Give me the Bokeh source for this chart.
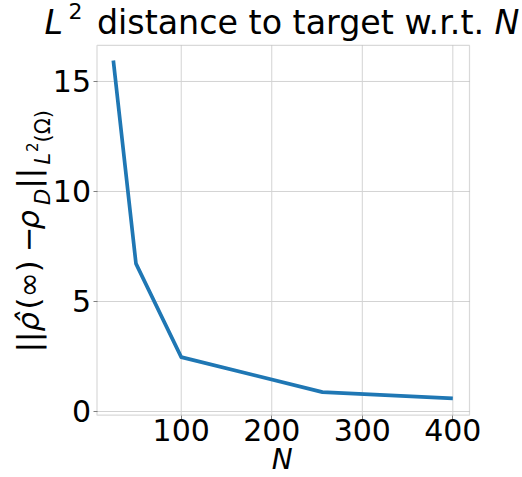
import math
from bokeh.plotting import figure
from bokeh.models import Label, Range1d, FixedTicker, BoxAnnotation
from bokeh.embed import file_html
from bokeh.resources import INLINE

# ---- data ----
n_values = [25, 50, 100, 256, 400]
l2_distance = [15.95, 6.72, 2.47, 0.88, 0.60]
x_ticks = [100, 200, 300, 400]
y_ticks = [0, 5, 10, 15]

# ---- layout constants (axes box in data units, view extents) ----
X_VIEW = (-99.64, 476.97)
Y_VIEW = (-3.0, 18.68)
BOX_X = (6.96, 418.43)
BOX_Y = (-0.168, 16.636)

FONT = "DejaVu Sans"
W, H = 522, 477
GRID = "#d3d3d3"
SPINE = "#808080"
K = 0.43  # baseline correction (fraction of font size)

p = figure(width=W, height=H, output_backend="svg", toolbar_location=None,
           title=None, x_range=Range1d(*X_VIEW), y_range=Range1d(*Y_VIEW),
           min_border=0)
p.background_fill_color = "white"
p.border_fill_color = "white"
p.outline_line_color = None
p.grid.visible = False

# grid lines inside the axes box
p.segment(x0=x_ticks, x1=x_ticks, y0=[BOX_Y[0]] * len(x_ticks),
          y1=[BOX_Y[1]] * len(x_ticks), line_color=GRID, line_width=1,
          level="underlay")
p.segment(x0=[BOX_X[0]] * len(y_ticks), x1=[BOX_X[1]] * len(y_ticks),
          y0=y_ticks, y1=y_ticks, line_color=GRID, line_width=1,
          level="underlay")

# data
p.line(n_values, l2_distance, line_color="#1f77b4", line_width=3.7,
       line_join="round", line_cap="butt")

# spines
p.add_layout(BoxAnnotation(left=BOX_X[0], right=BOX_X[1], bottom=BOX_Y[0],
                           top=BOX_Y[1], fill_alpha=0, line_color=SPINE,
                           line_width=1.2))

# axes
p.xaxis.fixed_location = BOX_Y[0]
p.yaxis.fixed_location = BOX_X[0]
for ax, ticks in ((p.xaxis, x_ticks), (p.yaxis, y_ticks)):
    ax.ticker = FixedTicker(ticks=ticks)
    ax.axis_line_color = None
    ax.major_tick_line_color = SPINE
    ax.major_tick_out = 4
    ax.major_tick_in = 0
    ax.minor_tick_line_color = None
    ax.major_label_text_font = FONT
    ax.major_label_text_font_size = "30px"
    ax.major_label_text_color = "black"
p.xaxis.major_label_standoff = 0
p.yaxis.major_label_standoff = 2


def hlab(text, x, base_y, size, style="normal", align="left"):
    """horizontal text; base_y = baseline, pixels from top"""
    p.add_layout(Label(x=x, y=H - base_y + K * size, x_units="screen",
                       y_units="screen", text=text, text_font=FONT,
                       text_font_size=f"{size}px", text_font_style=style,
                       text_align=align, text_baseline="alphabetic",
                       text_color="black"))


def vlab(text, base_x, start_y, size, style="normal"):
    """text rotated 90deg ccw; base_x = baseline x, start_y = start (px from top)"""
    p.add_layout(Label(x=base_x - K * size, y=H - start_y, x_units="screen",
                       y_units="screen", text=text, text_font=FONT,
                       text_font_size=f"{size}px", text_font_style=style,
                       angle=math.pi / 2, text_align="left",
                       text_baseline="alphabetic", text_color="black"))


# title
hlab("L", 44, 36, 33.3, "italic")
hlab("2", 68, 19.5, 22)
hlab("distance to target w.r.t.", 96.4, 36, 33.3)
hlab("N", 494, 36, 33.3, "italic")

# x axis label
hlab("N", 281.7, 471, 28, "italic", align="center")

# y axis label
BM, BS, BP = 41, 52, 38
vlab("||", BM, 351.7, 30.5)
vlab("ρ\u0302", BM, 331, 30.5, "italic")
vlab("(∞)", BM, 309, 30.5)
vlab("−", BM, 251.5, 30.5)
vlab("ρ", BM, 229, 30.5, "italic")
vlab("D", BS, 204.5, 21, "italic")
vlab("||", BM, 188, 30.5)
vlab("L", BS, 164, 21, "italic")
vlab("2", BP, 151.5, 15)
vlab("(Ω)", BS, 142, 21)

open("out.html", "w").write(file_html(p, INLINE))
